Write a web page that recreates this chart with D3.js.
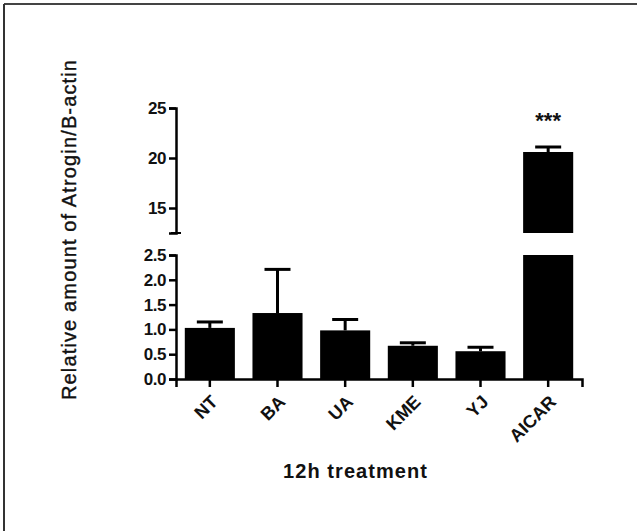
<!DOCTYPE html>
<html>
<head>
<meta charset="utf-8">
<script src="https://cdn.jsdelivr.net/npm/d3@7"></script>
<style>
  html, body { margin: 0; padding: 0; background: #fff; }
  svg { display: block; }
  text { font-family: Arial, "Liberation Sans", sans-serif; fill: #111; }
</style>
</head>
<body>
<svg id="chart" width="637" height="531"></svg>
<script>
// Treatments, mean relative expression and SEM
const categories = ["NT", "BA", "UA", "KME", "YJ", "AICAR"];
const means = [1.03, 1.33, 0.98, 0.67, 0.56, 20.6];
const errors = [0.12, 0.88, 0.22, 0.06, 0.08, 0.5];
const significance = ["", "", "", "", "", "***"];
const lowerTicks = [0.0, 0.5, 1.0, 1.5, 2.0, 2.5];
const upperTicks = [15, 20, 25];
const lowerDomain = [0, 2.5];
const upperDomain = [12.5, 25];

const svg = d3.select("#chart");

// outer frame (top and left edges)
svg.append("line").attr("x1", 4).attr("x2", 637).attr("y1", 4).attr("y2", 4)
  .attr("stroke", "#444").attr("stroke-width", 2);
svg.append("line").attr("x1", 4).attr("x2", 4).attr("y1", 4).attr("y2", 531)
  .attr("stroke", "#333").attr("stroke-width", 2);

const x = d3.scaleBand().domain(categories).range([176, 582]).paddingInner(0.26).paddingOuter(0.13);
const yLow = d3.scaleLinear().domain(lowerDomain).range([379, 255]);
const yHigh = d3.scaleLinear().domain(upperDomain).range([233, 108]);

const axisX = 176;
const data = categories.map((c, i) => ({ c, m: means[i], e: errors[i], s: significance[i] }));

// bars in the lower segment (clipped at the top of its range)
svg.append("g").selectAll("rect").data(data).join("rect")
  .attr("x", d => x(d.c))
  .attr("width", x.bandwidth())
  .attr("y", d => yLow(Math.min(d.m, lowerDomain[1])))
  .attr("height", d => yLow(0) - yLow(Math.min(d.m, lowerDomain[1])))
  .attr("fill", "#000");

// bars continuing into the upper segment
const tall = data.filter(d => d.m > upperDomain[0]);
svg.append("g").selectAll("rect").data(tall).join("rect")
  .attr("x", d => x(d.c))
  .attr("width", x.bandwidth())
  .attr("y", d => yHigh(d.m))
  .attr("height", d => yHigh(upperDomain[0]) - yHigh(d.m))
  .attr("fill", "#000");

// error bars (upper whisker only)
const capW = 26;
const yFor = v => v > upperDomain[0] ? yHigh(v) : yLow(v);
const eb = svg.append("g").attr("stroke", "#000").attr("stroke-width", 3);
data.forEach(d => {
  const cx = x(d.c) + x.bandwidth() / 2;
  eb.append("line").attr("x1", cx).attr("x2", cx)
    .attr("y1", yFor(d.m)).attr("y2", yFor(d.m + d.e));
  eb.append("line").attr("x1", cx - capW / 2).attr("x2", cx + capW / 2)
    .attr("y1", yFor(d.m + d.e)).attr("y2", yFor(d.m + d.e));
});

// significance marks
svg.append("g").selectAll("text").data(data.filter(d => d.s)).join("text")
  .attr("x", d => x(d.c) + x.bandwidth() / 2)
  .attr("y", d => yHigh(d.m + d.e) - 19)
  .attr("text-anchor", "middle")
  .attr("font-size", 22).attr("font-weight", "bold")
  .text(d => d.s);

// y axes: lower and upper segments
function styleAxis(g) {
  g.select(".domain").attr("stroke", "#000").attr("stroke-width", 2.5);
  g.selectAll(".tick line").attr("stroke", "#000").attr("stroke-width", 2.5);
  g.selectAll(".tick text").attr("font-size", 17).attr("font-weight", "bold")
    .attr("font-family", "Arial, 'Liberation Sans', sans-serif").attr("fill", "#111")
    .attr("letter-spacing", -0.5);
}

svg.append("g").attr("transform", `translate(${axisX},0)`)
  .call(d3.axisLeft(yLow).tickValues(lowerTicks).tickFormat(d3.format(".1f")).tickSizeOuter(0).tickSize(7).tickPadding(3))
  .call(styleAxis);

const upper = svg.append("g").attr("transform", `translate(${axisX},0)`)
  .call(d3.axisLeft(yHigh).tickValues(upperTicks).tickFormat(d3.format("d")).tickSizeOuter(0).tickSize(7).tickPadding(3))
  .call(styleAxis);
// short end cap at the break
upper.append("line").attr("x1", -5).attr("x2", 5)
  .attr("y1", yHigh(upperDomain[0])).attr("y2", yHigh(upperDomain[0]))
  .attr("stroke", "#000").attr("stroke-width", 2);

// x axis
const xAxis = svg.append("g").attr("transform", `translate(0,${yLow(0)})`)
  .call(d3.axisBottom(x).tickSizeOuter(0).tickSize(8).tickFormat(""));
xAxis.select(".domain").attr("stroke", "#000").attr("stroke-width", 2.5);
xAxis.selectAll(".tick line").attr("stroke", "#000").attr("stroke-width", 2.5);

// rotated category labels
svg.append("g").selectAll("text").data(categories).join("text")
  .attr("transform", d => `translate(${x(d) + x.bandwidth() / 2 + 9},${yLow(0) + 24}) rotate(-45)`)
  .attr("text-anchor", "end")
  .attr("font-size", 18).attr("font-weight", "bold")
  .text(d => d);

// axis titles
svg.append("text")
  .attr("x", 355).attr("y", 478)
  .attr("text-anchor", "middle")
  .attr("font-size", 20).attr("font-weight", "bold")
  .attr("textLength", 144).attr("lengthAdjust", "spacing")
  .text("12h treatment");

svg.append("text")
  .attr("transform", "translate(76,230) rotate(-90)")
  .attr("text-anchor", "middle")
  .attr("font-size", 20)
  .attr("stroke", "#111").attr("stroke-width", 0.4)
  .attr("textLength", 340).attr("lengthAdjust", "spacing")
  .text("Relative amount of Atrogin/B-actin");
</script>
</body>
</html>
